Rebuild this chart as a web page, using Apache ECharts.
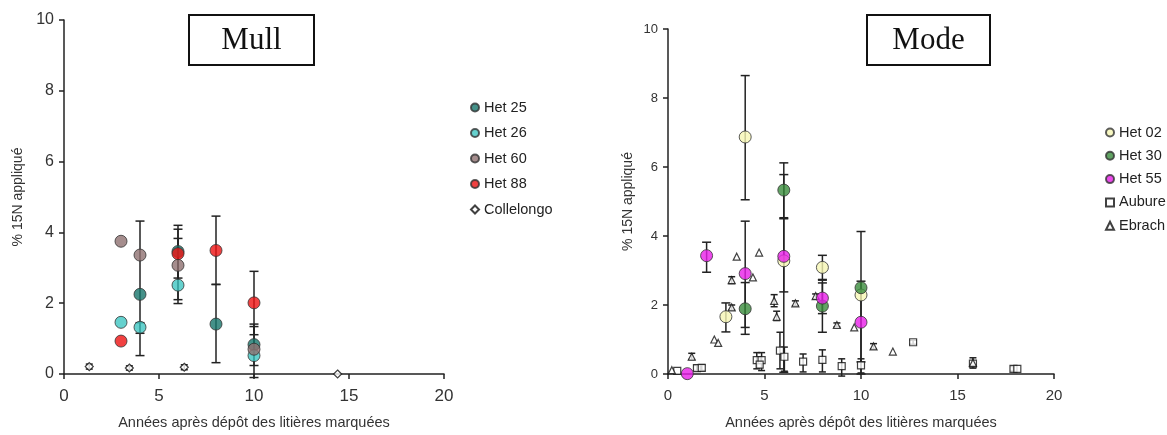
<!DOCTYPE html>
<html>
<head>
<meta charset="utf-8">
<script src="https://cdn.jsdelivr.net/npm/echarts@6/dist/echarts.min.js"></script>
<style>
html,body{margin:0;padding:0;background:#fff;}
#chart{width:1167px;height:435px;}
</style>
</head>
<body>
<div id="chart"></div>
<script>
// ---------- Data (Mull) ----------
const mullTitle = 'Mull';
const modeTitle = 'Mode';
const xAxisName = 'Années après dépôt des litières marquées';
const yAxisName = '% 15N appliqué';

const het25 = [[4, 2.25], [6, 3.46], [8, 1.41], [10, 0.83]];
const het26 = [[3, 1.46], [4, 1.32], [6, 2.51], [10, 0.52]];
const het60 = [[3, 3.75], [4, 3.36], [6, 3.07], [10, 0.7]];
const het88 = [[3, 0.93], [6, 3.40], [8, 3.49], [10, 2.01]];
const collelongo = [[1.33, 0.21], [3.44, 0.17], [6.33, 0.19], [14.4, 0.0]];
// error bars: [x, low, high]
const mullErr = [[4, 0.52, 4.32], [4, 1.15, 1.45], [6, 1.99, 4.2], [6, 2.1, 4.09], [6, 2.71, 3.83],
                 [8, 2.53, 4.46], [8, 0.32, 2.53], [10, 1.11, 2.9], [10, 0.24, 1.41], [10, -0.1, 1.34]];
const collelongoErr = [[1.33, 0.14, 0.28], [3.44, 0.11, 0.23], [6.33, 0.12, 0.26]];

// ---------- Data (Mode) ----------
const het02 = [[3, 1.66], [4, 6.87], [6, 3.28], [8, 3.09], [10, 2.29]];
const het30 = [[4, 1.89], [6, 5.33], [8, 1.97], [10, 2.5]];
const het55 = [[1, 0.01], [2, 3.43], [4, 2.91], [6, 3.41], [8, 2.2], [10, 1.5]];
const aubure = [[0.48, 0.09], [1.5, 0.17], [1.75, 0.18], [4.6, 0.4], [4.85, 0.4], [4.75, 0.27],
                [5.8, 0.68], [6.03, 0.5], [7.0, 0.36], [8.0, 0.41], [9.0, 0.23], [10.0, 0.25],
                [12.7, 0.92], [15.8, 0.3], [17.9, 0.15], [18.1, 0.15]];
const ebrach = [[0.2, 0.11], [1.23, 0.5], [2.4, 1.0], [2.6, 0.9], [3.3, 2.72], [3.3, 1.93],
                [3.56, 3.4], [4.4, 2.8], [4.72, 3.52], [5.5, 2.12], [5.63, 1.66], [6.6, 2.05],
                [7.65, 2.26], [8.75, 1.42], [9.65, 1.35], [10.65, 0.8], [11.65, 0.65], [15.8, 0.32]];
const modeErr = [[2, 2.95, 3.82], [3, 1.22, 2.06], [4, 5.05, 8.65], [4, 1.35, 4.43], [4, 1.15, 2.65],
                 [6, 4.53, 6.12], [6, 0.05, 5.78], [6, 2.38, 4.5], [8, 2.74, 3.44], [8, 1.21, 2.64],
                 [8, 1.75, 2.72], [10, 0.35, 4.13], [10, 0.0, 2.69]];
const smallErr = [[1.5, 0.1, 0.25], [1.75, 0.1, 0.27], [4.6, 0.15, 0.62], [4.85, 0.1, 0.62],
                  [5.8, 0.15, 1.21], [6.03, 0.08, 0.78], [7.0, 0.06, 0.58], [8.0, 0.06, 0.7],
                  [9.0, -0.06, 0.44], [10.0, 0.03, 0.44], [12.7, 0.86, 0.98], [15.8, 0.17, 0.47],
                  [17.9, 0.08, 0.22], [1.23, 0.42, 0.6], [3.3, 2.62, 2.82], [3.3, 1.85, 2.0],
                  [5.5, 1.95, 2.3], [5.63, 1.55, 1.82], [6.6, 1.98, 2.12], [7.65, 2.18, 2.32],
                  [8.75, 1.36, 1.48], [10.65, 0.72, 0.88]];

const xTicks = {min: 0, max: 20, interval: 5};
const yTicks = {min: 0, max: 10, interval: 2};

// ---------- Chart ----------
const chart = echarts.init(document.getElementById('chart'), null, {renderer: 'canvas'});

function errRender(cap) {
  return function (params, api) {
    const x = api.value(0), lo = api.value(1), hi = api.value(2);
    const a = api.coord([x, hi]), b = api.coord([x, lo]);
    const st = {stroke: '#222', lineWidth: 1.5};
    return {type: 'group', children: [
      {type: 'line', shape: {x1: a[0], y1: a[1], x2: b[0], y2: b[1]}, style: st},
      {type: 'line', shape: {x1: a[0] - cap, y1: a[1], x2: a[0] + cap, y2: a[1]}, style: st},
      {type: 'line', shape: {x1: b[0] - cap, y1: b[1], x2: b[0] + cap, y2: b[1]}, style: st}
    ]};
  };
}

function xAxis(gi, labelSize) {
  return {
    gridIndex: gi, type: 'value', min: xTicks.min, max: xTicks.max, interval: xTicks.interval,
    name: xAxisName, nameLocation: 'middle', nameGap: 41,
    nameTextStyle: {fontFamily: 'Liberation Sans', fontSize: 14.5, color: '#333'},
    axisLine: {lineStyle: {color: '#222', width: 1.5}},
    axisTick: {show: true, inside: false, length: 5, lineStyle: {color: '#222', width: 1.5}},
    axisLabel: {margin: 14, fontFamily: 'Liberation Sans', fontSize: labelSize, color: '#333'},
    splitLine: {show: false}
  };
}
function yAxis(gi, labelSize, gap) {
  return {
    gridIndex: gi, type: 'value', min: yTicks.min, max: yTicks.max, interval: yTicks.interval,
    name: yAxisName, nameLocation: 'middle', nameGap: gap,
    nameTextStyle: {fontFamily: 'Liberation Sans', fontSize: 14, color: '#333'},
    axisLine: {show: true, lineStyle: {color: '#222', width: 1.5}},
    axisTick: {show: true, inside: false, length: 5, lineStyle: {color: '#222', width: 1.5}},
    axisLabel: {margin: 10, fontFamily: 'Liberation Sans', fontSize: labelSize, color: '#333'},
    splitLine: {show: false}
  };
}

function circles(name, data, color, xi) {
  return {
    name: name, type: 'scatter', xAxisIndex: xi, yAxisIndex: xi, data: data,
    symbol: 'circle', symbolSize: 12, z: 5,
    itemStyle: {color: color, borderColor: '#333', borderWidth: 1}
  };
}
function openMark(name, data, sym, size, xi) {
  return {
    name: name, type: 'scatter', xAxisIndex: xi, yAxisIndex: xi, data: data,
    symbol: sym, symbolSize: size, z: 4,
    itemStyle: {color: '#fff', borderColor: '#111', borderWidth: 1.2}
  };
}
function errSeries(data, xi, cap) {
  return {
    type: 'custom', xAxisIndex: xi, yAxisIndex: xi, data: data, z: 3,
    encode: {x: 0, y: [1, 2]}, renderItem: errRender(cap), silent: true
  };
}

function titleBox(x, y, w, h, text) {
  return {
    type: 'group', left: x, top: y, children: [
      {type: 'rect', shape: {x: 0, y: 0, width: w, height: h},
       style: {fill: '#fff', stroke: '#111', lineWidth: 2}},
      {type: 'text', x: w / 2, y: h / 2 + 1,
       style: {text: text, font: '31px "Liberation Serif"', fill: '#111',
               textAlign: 'center', textVerticalAlign: 'middle'}}
    ]
  };
}

const legendText = {fontFamily: 'Liberation Sans', fontSize: 14.5, color: '#222'};

chart.setOption({
  animation: false,
  backgroundColor: '#fff',
  grid: [
    {left: 64, top: 20, width: 380, height: 358},
    {left: 668, top: 29, width: 386, height: 348}
  ],
  xAxis: [xAxis(0, 17), xAxis(1, 15)],
  yAxis: [yAxis(0, 16, 39), yAxis(1, 13, 33)],
  legend: [
    {orient: 'vertical', left: 465, top: 95, itemGap: 10.5, itemWidth: 8, itemHeight: 8,
     textStyle: legendText, data: ['Het 25', 'Het 26', 'Het 60', 'Het 88', 'Collelongo']},
    {orient: 'vertical', left: 1100, top: 120, itemGap: 8.3, itemWidth: 8, itemHeight: 8,
     textStyle: legendText, data: ['Het 02', 'Het 30', 'Het 55', 'Aubure', 'Ebrach']}
  ],
  graphic: [
    titleBox(188, 14, 125, 50, mullTitle),
    titleBox(866, 14, 123, 50, modeTitle)
  ],
  series: [
    errSeries(mullErr, 0, 4.5),
    errSeries(collelongoErr, 0, 3.5),
    circles('Het 25', het25, '#17766c', 0),
    circles('Het 26', het26, '#3fc6c2', 0),
    circles('Het 60', het60, '#8e7070', 0),
    circles('Het 88', het88, '#ee1111', 0),
    openMark('Collelongo', collelongo, 'diamond', 8, 0),

    errSeries(modeErr, 1, 4.5),
    errSeries(smallErr, 1, 3.5),
    openMark('Aubure', aubure, 'rect', 7, 1),
    openMark('Ebrach', ebrach, 'triangle', 7, 1),
    circles('Het 02', het02, '#f6f6b4', 1),
    circles('Het 30', het30, '#3a8c3c', 1),
    circles('Het 55', het55, '#e81ee8', 1)
  ]
});
</script>
</body>
</html>
